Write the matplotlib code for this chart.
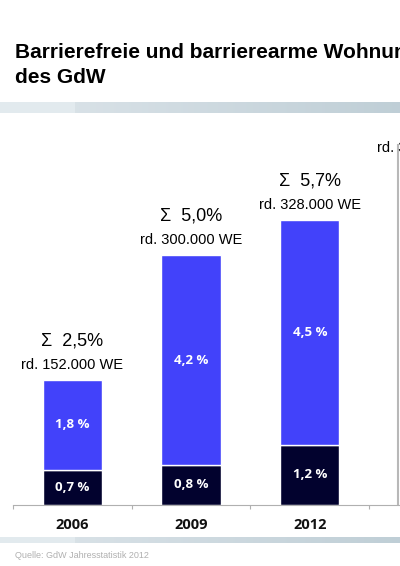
import numpy as np
import matplotlib.pyplot as plt

years = ["2006", "2009", "2012"]
barrierefrei = [0.7, 0.8, 1.2]
barrierearm = [1.8, 4.2, 4.5]
summen = ["Σ  2,5%", "Σ  5,0%", "Σ  5,7%"]
wohnungen = ["rd. 152.000 WE", "rd. 300.000 WE", "rd. 328.000 WE"]
label_4 = "rd. 360.000 WE"

dark = "#02022e"
blue = "#4242fa"

fig = plt.figure(figsize=(4.0, 5.66), dpi=100)

# title
fig.text(15 / 400, 1 - 58 / 566, "Barrierefreie und barrierearme Wohnungen im Bestand",
         fontsize=15, fontweight="bold", family="Liberation Sans", color="black")
fig.text(15 / 400, 1 - 83 / 566, "des GdW",
         fontsize=15, fontweight="bold", family="Liberation Sans", color="black")

# gradient bands
def band(y_top, y_bot):
    bax = fig.add_axes([0, 1 - y_bot / 566, 1, (y_bot - y_top) / 566])
    grad = np.linspace(0, 1, 400)
    c0 = np.array([0.87, 0.90, 0.92])
    c1 = np.array([0.75, 0.81, 0.84])
    img = c0 + (c1 - c0) * grad[:, None]
    img[:75] = np.array([0.89, 0.92, 0.935])
    bax.imshow(img[None, :, :], aspect="auto", extent=[0, 1, 0, 1])
    bax.axis("off")

band(102, 113)
band(537, 543)

ax = fig.add_axes([13 / 400, 61 / 566, 387 / 400, 385 / 566])
x = np.arange(len(years))
w = 0.5
ax.bar(x, barrierefrei, width=w, color=dark, edgecolor="white", linewidth=1)
ax.bar(x, barrierearm, width=w, bottom=barrierefrei, color=blue,
       edgecolor="white", linewidth=1)

for i in range(len(years)):
    total = barrierefrei[i] + barrierearm[i]
    ax.text(x[i], barrierefrei[i] / 2, f"{barrierefrei[i]:.1f} %".replace(".", ","),
            ha="center", va="center", color="white", fontsize=9.5,
            fontweight="bold", family="Open Sans")
    ax.text(x[i], barrierefrei[i] + barrierearm[i] / 2,
            f"{barrierearm[i]:.1f} %".replace(".", ","),
            ha="center", va="center", color="white", fontsize=9.5,
            fontweight="bold", family="Open Sans")
    ax.annotate(wohnungen[i], (x[i], total), xytext=(0, 15), textcoords="offset pixels",
                ha="center", va="center", fontsize=10.5, family="Liberation Sans")
    ax.annotate(summen[i], (x[i], total), xytext=(0, 39), textcoords="offset pixels",
                ha="center", va="center", fontsize=13, family="Liberation Sans")

# cut-off fourth column
ax.axvline(2.74, ymin=0, ymax=7.2 / 7.7, color="#b8b8b8", linewidth=1.5)
ax.text(3, 7.14, label_4, ha="center", va="center", fontsize=10.5,
        family="Liberation Sans", clip_on=False)

ax.set_xlim(-0.5, 2.76)
ax.set_ylim(0, 7.7)
ax.set_xticks([-0.5, 0.5, 1.5, 2.5])
ax.set_xticklabels([])
ax.tick_params(axis="x", length=3, color="#b0b0b0", direction="out")
ax.set_yticks([])
for s in ["top", "right", "left"]:
    ax.spines[s].set_visible(False)
ax.spines["bottom"].set_color("#b0b0b0")
for i, yr in enumerate(years):
    ax.annotate(yr, (x[i], 0), xytext=(0, -20), textcoords="offset pixels",
                ha="center", va="center", fontsize=10.5, fontweight="bold",
                family="Open Sans", color="#111111")

fig.text(15 / 400, 1 - 555 / 566, "Quelle: GdW Jahresstatistik 2012",
         fontsize=6.5, family="Liberation Sans", color="#b0b0b0", va="center")

fig.savefig("out.png", dpi=100)
